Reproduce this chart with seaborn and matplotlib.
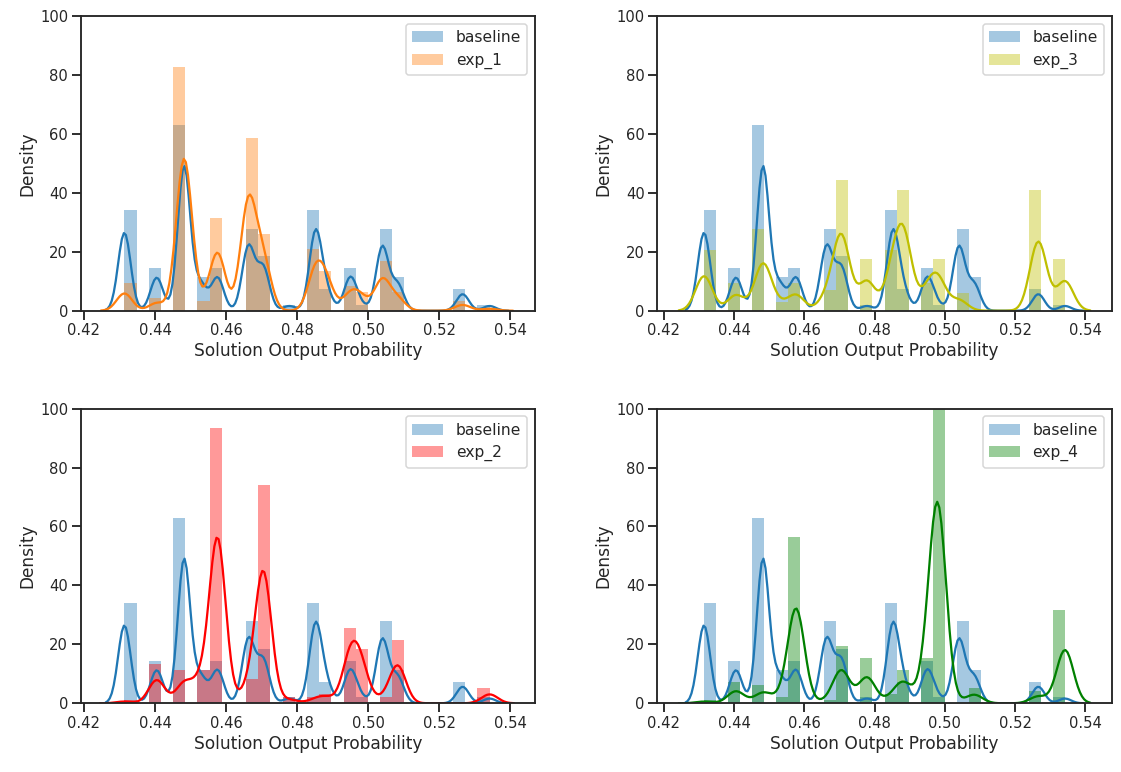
import numpy as np
import seaborn as sns
import matplotlib
matplotlib.use("Agg")
import matplotlib.pyplot as plt
from matplotlib.patches import Patch

# ---------- dados: valores discretos de probabilidade e contagens por série ----------
prob_values = [0.4314, 0.4405, 0.4482, 0.4528, 0.4576, 0.4663, 0.4705, 0.4778,
               0.4852, 0.4883, 0.4950, 0.4980, 0.5040, 0.5083, 0.5266, 0.5342]

baseline = [33, 14, 61, 11, 14, 27, 18, 2, 33, 7, 14, 2, 27, 11, 7, 2]
exp_1 = [9, 4, 79, 3, 30, 56, 25, 0, 20, 13, 8, 6, 16, 6, 3, 1]
exp_2 = [1, 13, 11, 11, 92, 8, 73, 2, 2, 3, 25, 18, 2, 21, 0, 5]
exp_3 = [20, 9, 27, 3, 9, 7, 43, 17, 20, 40, 9, 17, 6, 0, 40, 17]
exp_4 = [1, 7, 6, 2, 55, 1, 19, 15, 3, 11, 15, 110, 0, 5, 4, 31]

exp_names = ["exp_1", "exp_3", "exp_2", "exp_4"]
exp_counts = [exp_1, exp_3, exp_2, exp_4]
exp_colors = ["#ff7f0e", (0.75, 0.75, 0.0), (1.0, 0.0, 0.0), (0.0, 0.5, 0.0)]
exp_bw = [0.0022, 0.0024, 0.0023, 0.0024]   # largura do kernel (em unidades de x)
base_bw = 0.00176
base_color = "#1f77b4"

# ---------- estilo ----------
sns.set_theme(style="ticks", context="talk")
plt.rcParams["font.family"] = ["DejaVu Sans"]
plt.rcParams["xtick.labelsize"] = 14.8
plt.rcParams["ytick.labelsize"] = 14.8
plt.rcParams["axes.labelsize"] = 17
plt.rcParams["legend.fontsize"] = 15.5

fig, axes = plt.subplots(2, 2, figsize=(1121 / 72, 772 / 72), dpi=72)
fig.subplots_adjust(left=0.072, right=0.9917, top=0.9793, bottom=0.089,
                    wspace=0.269, hspace=0.332)

values = np.array(prob_values)
edges = np.linspace(values.min(), values.max(), 31)
base_x = np.repeat(values, baseline)
xlims = [(0.4191, 0.5470), (0.4181, 0.5475), (0.4191, 0.5470), (0.4181, 0.5475)]


def draw(ax, x, color, bw):
    sns.histplot(x=x, bins=edges, stat="density", color=color, alpha=0.4,
                 linewidth=0, ax=ax)
    sns.kdeplot(x=x, bw_method=bw / np.std(x, ddof=1), cut=3, color=color,
                lw=2.25, ax=ax)


for ax, name, counts, color, bw, xl in zip(axes.flat, exp_names, exp_counts,
                                            exp_colors, exp_bw, xlims):
    draw(ax, base_x, base_color, base_bw)
    draw(ax, np.repeat(values, counts), color, bw)
    ax.set_xlim(*xl)
    ax.set_ylim(0, 100)
    ax.set_xticks([0.42, 0.44, 0.46, 0.48, 0.50, 0.52, 0.54])
    ax.set_xlabel("Solution Output Probability")
    ax.set_ylabel("Density")
    handles = [Patch(facecolor=base_color, alpha=0.4, edgecolor="none"),
               Patch(facecolor=color, alpha=0.4, edgecolor="none")]
    ax.legend(handles, ["baseline", name], loc="upper right")

fig.savefig("out.png", dpi=72)
